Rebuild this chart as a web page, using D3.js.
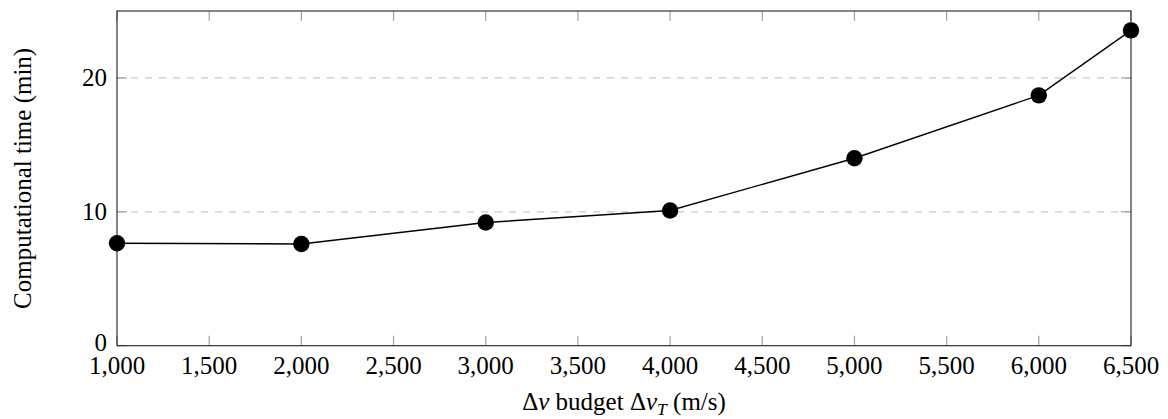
<!DOCTYPE html>
<html>
<head>
<meta charset="utf-8">
<script src="https://cdn.jsdelivr.net/npm/d3@7"></script>
<style>
  html, body { margin: 0; padding: 0; background: #fff; }
  svg { display: block; }
  text { font-family: "Liberation Serif", "DejaVu Serif", serif; fill: #000; }
</style>
</head>
<body>
<svg id="chart" width="1168" height="419"></svg>
<script>
// Data
const budgets = [1000, 2000, 3000, 4000, 5000, 6000, 6500];
const times = [7.65, 7.6, 9.2, 10.1, 14.0, 18.7, 23.55];
const xTicks = [1000, 1500, 2000, 2500, 3000, 3500, 4000, 4500, 5000, 5500, 6000, 6500];
const yTicks = [0, 10, 20];
const gridValues = [10, 20];

const W = 1168, H = 419;
const margin = { left: 117, right: W - 1131, top: 11, bottom: H - 345.7 };
const svg = d3.select("#chart");
const fs = 25;

const x = d3.scaleLinear().domain([1000, 6500]).range([margin.left, W - margin.right]);
const y = d3.scaleLinear().domain([0, 25]).range([H - margin.bottom, margin.top]);

const x0 = x.range()[0], x1 = x.range()[1];
const yb = y.range()[0], yt = y.range()[1];

// grid
svg.append("g").selectAll("line").data(gridValues).join("line")
  .attr("x1", x0).attr("x2", x1)
  .attr("y1", d => y(d)).attr("y2", d => y(d))
  .attr("stroke", "#c8c8c8").attr("stroke-width", 1.2)
  .attr("stroke-dasharray", "7,7");

// inner ticks (bottom/top, left/right)
const tickLen = 10;
const tg = svg.append("g").attr("stroke", "#a0a0a0").attr("stroke-width", 1.2);
tg.selectAll(".xb").data(xTicks).join("line")
  .attr("x1", d => x(d)).attr("x2", d => x(d)).attr("y1", yb).attr("y2", yb - tickLen);
tg.selectAll(".xt").data(xTicks).join("line")
  .attr("x1", d => x(d)).attr("x2", d => x(d)).attr("y1", yt).attr("y2", yt + tickLen);
tg.selectAll(".yl").data(yTicks).join("line")
  .attr("y1", d => y(d)).attr("y2", d => y(d)).attr("x1", x0).attr("x2", x0 + tickLen);
tg.selectAll(".yr").data(yTicks).join("line")
  .attr("y1", d => y(d)).attr("y2", d => y(d)).attr("x1", x1).attr("x2", x1 - tickLen);

// frame
svg.append("rect").attr("x", x0).attr("y", yt).attr("width", x1 - x0).attr("height", yb - yt)
  .attr("fill", "none").attr("stroke", "#222").attr("stroke-width", 1.1);

// tick labels
const fmt = d3.format(",");
svg.append("g").selectAll("text").data(xTicks).join("text")
  .attr("x", d => x(d)).attr("y", yb + 28)
  .attr("text-anchor", "middle").attr("font-size", fs)
  .text(d => fmt(d));
svg.append("g").selectAll("text").data(yTicks).join("text")
  .attr("x", x0 - 10).attr("y", d => y(d)).attr("dy", d => d === 0 ? "0.22em" : "0.33em")
  .attr("text-anchor", "end").attr("font-size", fs)
  .text(d => d);

// line
svg.append("path").datum(budgets.map((b, i) => [b, times[i]]))
  .attr("fill", "none").attr("stroke", "#000").attr("stroke-width", 1.4)
  .attr("d", d3.line().x(d => x(d[0])).y(d => y(d[1])));

// markers
svg.append("g").selectAll("circle").data(budgets.map((b, i) => [b, times[i]])).join("circle")
  .attr("cx", d => x(d[0])).attr("cy", d => y(d[1])).attr("r", 8.2).attr("fill", "#000");

// axis labels
const xl = svg.append("text").attr("x", (x0 + x1) / 2).attr("y", 410)
  .attr("text-anchor", "middle").attr("font-size", fs);
xl.append("tspan").text("Δ");
xl.append("tspan").attr("font-style", "italic").text("v");
xl.append("tspan").text(" budget Δ");
xl.append("tspan").attr("font-style", "italic").text("v");
xl.append("tspan").attr("font-style", "italic").attr("font-size", fs * 0.7).attr("dy", 5).text("T");
xl.append("tspan").attr("dy", -5).text(" (m/s)");

svg.append("text")
  .attr("transform", `translate(31, ${(yb + yt) / 2}) rotate(-90)`)
  .attr("text-anchor", "middle").attr("font-size", fs)
  .text("Computational time (min)");
</script>
</body>
</html>
